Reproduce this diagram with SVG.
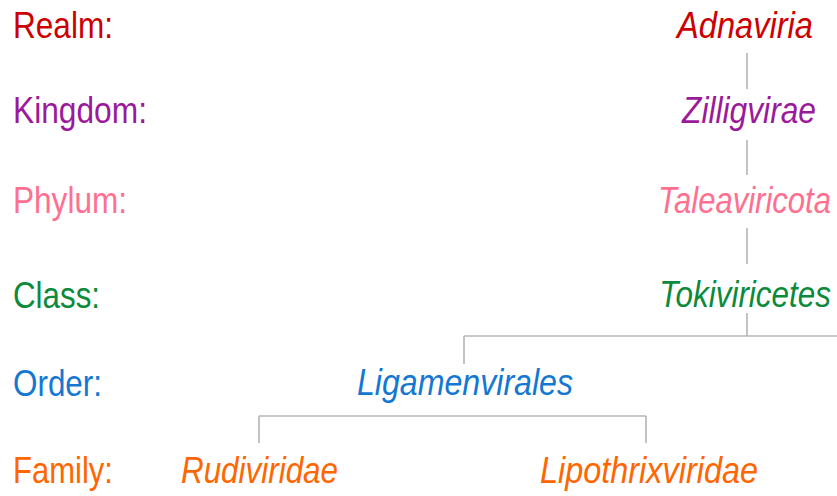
<svg xmlns="http://www.w3.org/2000/svg" width="837" height="496" viewBox="0 0 837 496">
<style>
text{font-family:"Liberation Sans",Arial,sans-serif;font-size:37px}
.t{font-style:italic}
.e{text-anchor:end}
.realm{fill:#cc0000}.kingdom{fill:#9b1a9b}.phylum{fill:#ff7090}.class{fill:#0a8a3a}.order{fill:#1478d2}.family{fill:#ff6600}
.c line{stroke:#b4b4b4;stroke-width:1.6;fill:none}
</style>
<rect width="837" height="496" fill="#fff"/>
<g id="rank-labels">
<text class="realm" x="13" y="38" textLength="100" lengthAdjust="spacingAndGlyphs">Realm:</text>
<text class="kingdom" x="13" y="123" textLength="134" lengthAdjust="spacingAndGlyphs">Kingdom:</text>
<text class="phylum" x="13" y="213" textLength="114" lengthAdjust="spacingAndGlyphs">Phylum:</text>
<text class="class" x="13" y="308" textLength="87" lengthAdjust="spacingAndGlyphs">Class:</text>
<text class="order" x="13" y="396" textLength="89" lengthAdjust="spacingAndGlyphs">Order:</text>
<text class="family" x="13" y="483" textLength="100" lengthAdjust="spacingAndGlyphs">Family:</text>
</g>
<g class="c" id="connectors">
<line x1="747" y1="53" x2="747" y2="89"/>
<line x1="747" y1="140" x2="747" y2="175"/>
<line x1="747" y1="228" x2="747" y2="264"/>
<line x1="747" y1="313" x2="747" y2="336"/>
<line x1="464" y1="336" x2="837" y2="336"/>
<line x1="464" y1="336" x2="464" y2="364"/>
<line x1="259" y1="416" x2="646" y2="416"/>
<line x1="259" y1="416" x2="259" y2="443"/>
<line x1="646" y1="416" x2="646" y2="443"/>
</g>
<g id="adnaviria"><text class="t realm" x="677" y="38" textLength="136" lengthAdjust="spacingAndGlyphs">Adnaviria</text></g>
<g id="zilligvirae"><text class="t kingdom" x="682" y="123" textLength="134" lengthAdjust="spacingAndGlyphs">Zilligvirae</text></g>
<g id="taleaviricota"><text class="t e phylum" transform="translate(831,213) scale(0.839,1)">Taleaviricota</text></g>
<g id="tokiviricetes"><text class="t e class" transform="translate(831,307) scale(0.85,1)">Tokiviricetes</text></g>
<g id="ligamenvirales"><text class="t order" x="357" y="395" textLength="216" lengthAdjust="spacingAndGlyphs">Ligamenvirales</text></g>
<g id="rudiviridae"><text class="t family" x="181" y="483" textLength="157" lengthAdjust="spacingAndGlyphs">Rudiviridae</text></g>
<g id="lipothrixviridae"><text class="t family" x="540" y="483" textLength="218" lengthAdjust="spacingAndGlyphs">Lipothrixviridae</text></g>
</svg>
